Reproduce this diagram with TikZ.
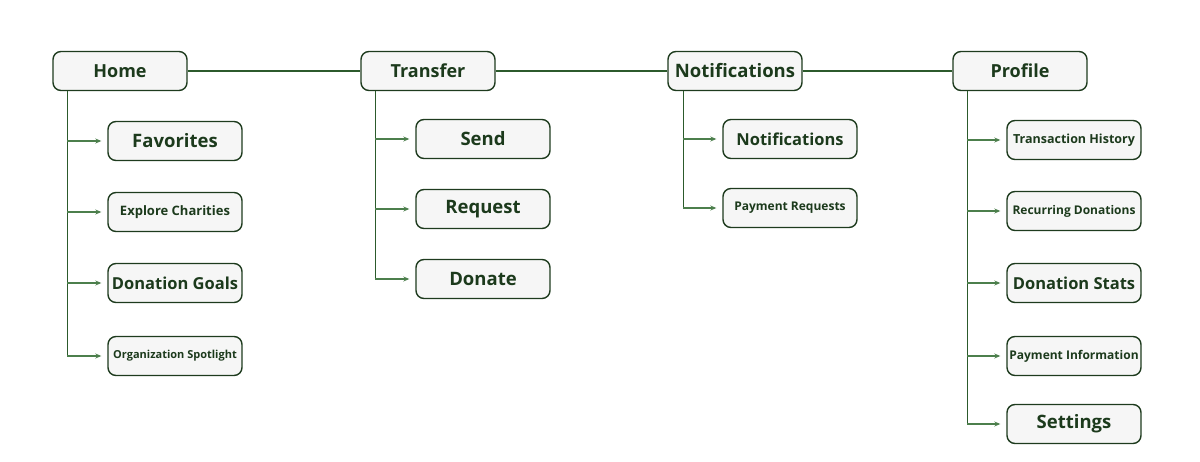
\documentclass[tikz,border=0pt]{standalone}
\usepackage{fontspec}
\setmainfont{Open Sans}
\usepackage{tikz}
\usetikzlibrary{arrows.meta}

\definecolor{boxline}{HTML}{1E3B1E}
\definecolor{boxfill}{HTML}{F6F6F6}
\definecolor{trunkgreen}{HTML}{2C5A2C}
\definecolor{leafgreen}{HTML}{4C7F4C}
\definecolor{txtgreen}{HTML}{1C3A1C}

\tikzset{
  page/.style={x=1pt, y=-1pt},
  card/.style={draw=boxline, fill=boxfill, line width=1.4pt, rounded corners=8pt,
    minimum width=134pt, minimum height=39pt, inner sep=2pt, text=txtgreen, font=\bfseries},
  top/.style={card, font=\bfseries\fontsize{18}{20}\selectfont},
  big/.style={card, font=\bfseries\fontsize{18.5}{20}\selectfont},
  mid/.style={card, font=\bfseries\fontsize{12.5}{14}\selectfont},
  tiny/.style={card, font=\bfseries\fontsize{11}{13}\selectfont},
  bar/.style={draw=trunkgreen, line width=1.3pt},
  leaf/.style={draw=leafgreen, line width=1.2pt, -{Stealth[length=6pt, width=5pt]}}
}

\begin{document}
\begin{tikzpicture}[page]
    \useasboundingbox (0,0) rectangle (1200,462);
    % top row
    \node[top] (home) at (120,71) {Home};
    \node[top] (transfer) at (428,71) {Transfer};
    \node[top, font=\bfseries\fontsize{18.5}{20}\selectfont] (notif) at (735,71) {Notifications};
    \node[top] (profile) at (1020,71) {Profile};
    \draw[bar] (home) -- (transfer) -- (notif) -- (profile);
    % home column
    \node[big] (fav) at (175,141) {Favorites};
    \node[mid, font=\bfseries\fontsize{13}{15}\selectfont] (explore) at (175,212) {Explore Charities};
    \node[big, font=\bfseries\fontsize{16.5}{18}\selectfont] (goals) at (175,283) {Donation Goals};
    \node[tiny] (spot) at (175,356) {Organization Spotlight};
    % transfer column
    \node[big] (send) at (483,139) {Send};
    \node[big] (request) at (483,209) {Request};
    \node[big] (donate) at (483,279) {Donate};
    % notifications column
    \node[big, font=\bfseries\fontsize{16.5}{18}\selectfont] (notiflist) at (790,139) {Notifications};
    \node[tiny, font=\bfseries\fontsize{12}{14}\selectfont] (payreq) at (790,208) {Payment Requests};
    % profile column
    \node[mid] (history) at (1074,140) {Transaction History};
    \node[mid, font=\bfseries\fontsize{12}{14}\selectfont] (recurring) at (1074,211) {Recurring Donations};
    \node[big, font=\bfseries\fontsize{16.5}{18}\selectfont] (stats) at (1074,283) {Donation Stats};
    \node[mid, font=\bfseries\fontsize{12}{14}\selectfont] (payinfo) at (1074,356) {Payment Information};
    \node[big] (settings) at (1074,424) {Settings};
    % trunks and branches
    \draw[bar] ([xshift=15pt]home.south west) -- ([xshift=15pt]home.south west |- spot.west);
    \foreach \c in {fav, explore, goals, spot}
        \draw[leaf] ([xshift=15pt]home.south west |- \c.west) -- ([xshift=-6pt]\c.west);
    \draw[bar] ([xshift=15pt]transfer.south west) -- ([xshift=15pt]transfer.south west |- donate.west);
    \foreach \c in {send, request, donate}
        \draw[leaf] ([xshift=15pt]transfer.south west |- \c.west) -- ([xshift=-6pt]\c.west);
    \draw[bar] ([xshift=16pt]notif.south west) -- ([xshift=16pt]notif.south west |- payreq.west);
    \foreach \c in {notiflist, payreq}
        \draw[leaf] ([xshift=16pt]notif.south west |- \c.west) -- ([xshift=-6pt]\c.west);
    \draw[bar] ([xshift=15pt]profile.south west) -- ([xshift=15pt]profile.south west |- settings.west);
    \foreach \c in {history, recurring, stats, payinfo, settings}
        \draw[leaf] ([xshift=15pt]profile.south west |- \c.west) -- ([xshift=-6pt]\c.west);
\end{tikzpicture}
\end{document}
